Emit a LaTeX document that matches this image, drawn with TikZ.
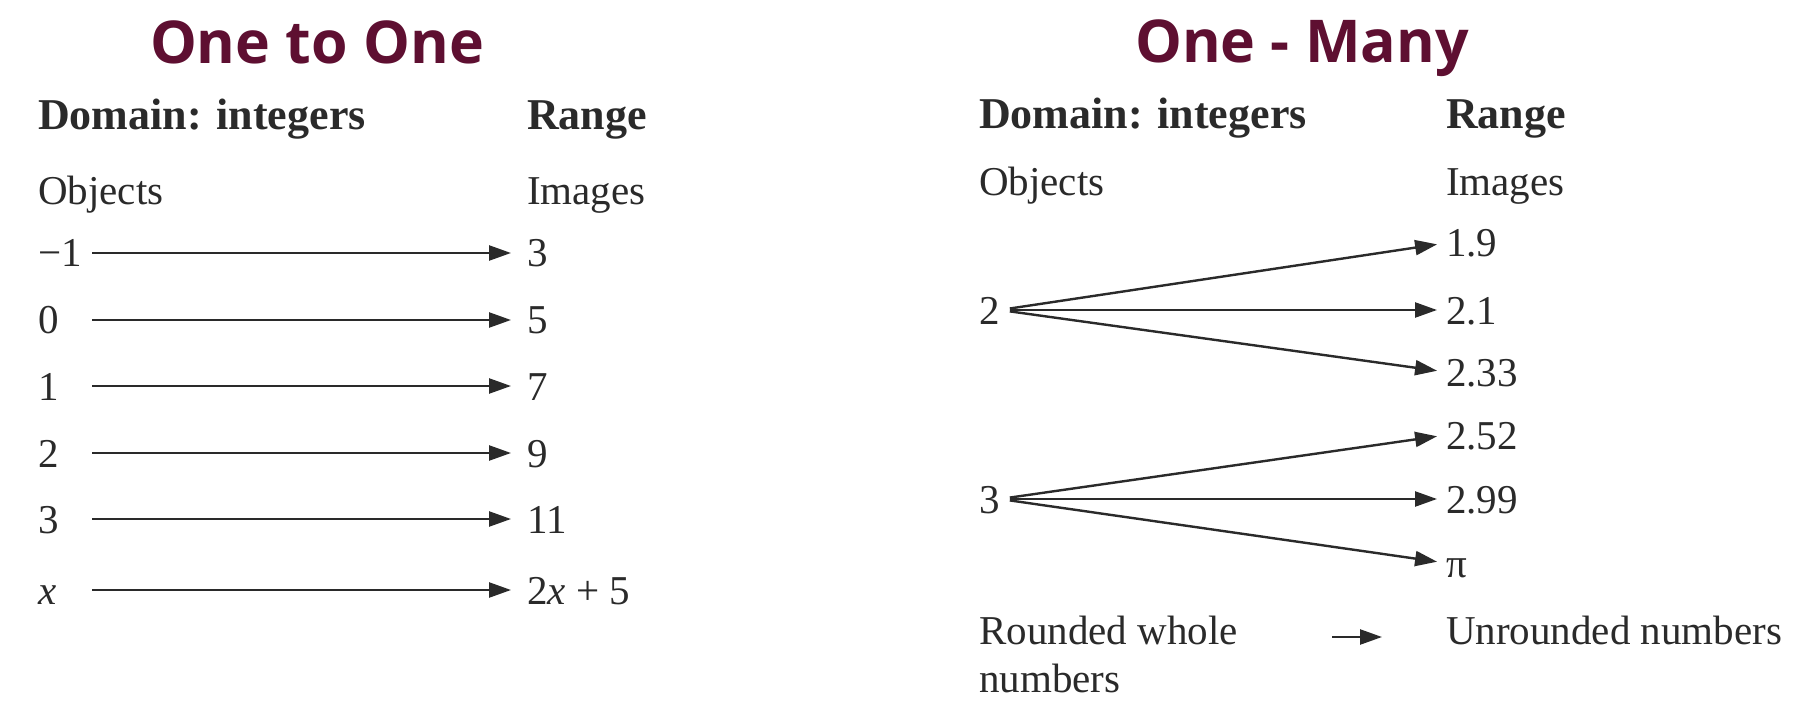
\documentclass[tikz,border=0pt]{standalone}
\usepackage{fontspec}
\setmainfont{Liberation Serif}
\newfontfamily\titlefont{Open Sans}
\usetikzlibrary{arrows.meta}
\definecolor{maroon}{HTML}{5E0F31}
\definecolor{ink}{HTML}{2A2A2A}
\begin{document}
\begin{tikzpicture}[x=1pt,y=-1pt,
  every node/.style={inner sep=0pt, text=ink},
  ttl/.style={font=\titlefont\bfseries\fontsize{59}{70}\selectfont, text=maroon, anchor=base},
  hdr/.style={font=\bfseries\fontsize{44}{52}\selectfont, anchor=base west},
  lbl/.style={font=\fontsize{41}{48}\selectfont, anchor=base west},
  val/.style={font=\fontsize{41}{48}\selectfont, anchor=west, text height=28pt, text depth=0pt},
  src/.style={val, text width=54pt, align=left},
  arr/.style={draw=ink, line width=2.4pt, -{Triangle[length=22pt,width=15pt]}},
  arrL/.style={arr, shorten >=16pt},
  arrR/.style={arr, shorten <=10pt, shorten >=9pt},
]
\fill[white] (0,0) rectangle (1800,714);
\useasboundingbox (0,0) rectangle (1800,714);

% ---------- One to One ----------
\node[ttl] (t1) at (317,64) {One to One};
\node[hdr] (d1) at (38,130) {Domain: integers};
\node[hdr] (r1) at (527,130) {Range};
\node[lbl] (o1) at (38,205) {Objects};
\node[lbl] (i1) at (527,205) {Images};

\node[src] (a1) at (38,253) {−1};
\node[src] (a2) at (38,320) {0};
\node[src] (a3) at (38,386) {1};
\node[src] (a4) at (38,453) {2};
\node[src] (a5) at (38,519) {3};
\node[src] (a6) at (38,590) {\itshape x};

\node[val] (b1) at (527,253) {3};
\node[val] (b2) at (527,320) {5};
\node[val] (b3) at (527,386) {7};
\node[val] (b4) at (527,453) {9};
\node[val] (b5) at (527,519) {11};
\node[val] (b6) at (527,590) {2{\itshape x} + 5};

\foreach \i in {1,...,6} { \draw[arrL] (a\i.east) -- (b\i.west); }

% ---------- One - Many ----------
\node[ttl] (t2) at (1302,63) {One - Many};
\node[hdr] (d2) at (979,129) {Domain: integers};
\node[hdr] (r2) at (1446,129) {Range};
\node[lbl] (o2) at (979,196) {Objects};
\node[lbl] (i2) at (1446,196) {Images};

\node[val] (s2) at (979,310) {2};
\node[val] (s3) at (979,499) {3};

\node[val] (v1) at (1446,243) {1.9};
\node[val] (v2) at (1446,310) {2.1};
\node[val] (v3) at (1446,372) {2.33};
\node[val] (v4) at (1446,435) {2.52};
\node[val] (v5) at (1446,499) {2.99};
\node[val] (v6) at (1446,563) {π};

\draw[arrR] (s2.east) -- (v1.west);
\draw[arrR] (s2.east) -- (v2.west);
\draw[arrR] (s2.east) -- (v3.west);
\draw[arrR] (s3.east) -- (v4.west);
\draw[arrR] (s3.east) -- (v5.west);
\draw[arrR] (s3.east) -- (v6.west);

\node[lbl] (rw) at (979,644) {Rounded whole};
\node[lbl] (rn) at (979,692) {numbers};
\node[lbl] (un) at (1446,644) {Unrounded numbers};
\coordinate (ka) at (1332,637);
\coordinate (kb) at (1382,637);
\draw[arr] (ka) -- (kb);
\end{tikzpicture}
\end{document}
